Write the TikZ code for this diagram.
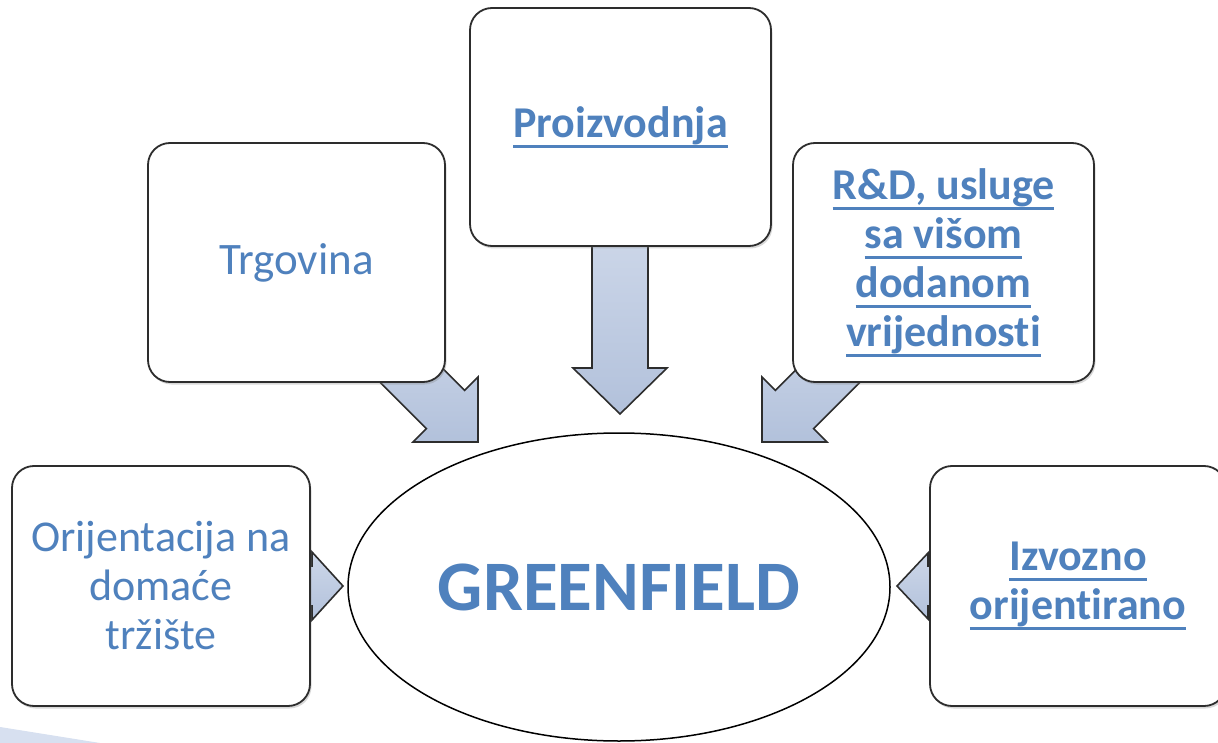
\documentclass[tikz,border=0pt]{standalone}
\usepackage{fontspec}
\setmainfont[RawFeature={-liga;-clig;-calt;-dlig;-rlig}]{Carlito}
\usetikzlibrary{calc,shadows,shapes.geometric}
\definecolor{txtblue}{RGB}{79,129,189}
\definecolor{edgegray}{RGB}{45,45,45}
\definecolor{arrowfill}{RGB}{178,193,219}
\definecolor{arrowlight}{RGB}{205,215,233}
\definecolor{swoosh}{RGB}{215,224,240}
\newsavebox\ulbox
\newcommand\ulx[1]{\sbox\ulbox{#1}\rlap{\color{txtblue}\rule[-0.24em]{\wd\ulbox}{0.07em}}\usebox\ulbox}
% start, tip, shaft half width, head half width, head length
\newcommand\fatarrow[5]{%
  \coordinate (faB) at ($(#2)!#5!(#1)$);
  \draw[fat] ($(#1)!#3!90:(#2)$) -- ($(faB)!#3!90:(#2)$) -- ($(faB)!#4!90:(#2)$) -- (#2)
    -- ($(faB)!#4!-90:(#2)$) -- ($(faB)!#3!-90:(#2)$) -- ($(#1)!#3!-90:(#2)$) -- cycle;}
\tikzset{
  box/.style={draw=edgegray, line width=1.8pt, rounded corners=22pt, fill=white,
    inner sep=0pt, outer sep=0pt, align=center, text=txtblue,
    font=\fontsize{44}{49}\selectfont,
    drop shadow={shadow xshift=1.5pt, shadow yshift=-2.5pt, opacity=0.3}},
  fat/.style={draw=edgegray, line width=1.6pt, line join=miter, top color=arrowlight, bottom color=arrowfill},
  hub/.style={ellipse, draw=black, line width=1.5pt, fill=white, inner sep=0pt,
    minimum width=542pt, minimum height=308pt, text=txtblue,
    font=\fontsize{71}{80}\selectfont\bfseries}
}
\begin{document}
\begin{tikzpicture}[x=1pt,y=-1pt]
\clip (0,0) rectangle (1218,743);
\fill[white] (0,0) rectangle (1218,743);
\fill[swoosh] (0,727) -- (100,743) -- (0,743) -- cycle;

% arrow coordinates
\coordinate (sDown) at (620,230);  \coordinate (tDown) at (620,414);
\coordinate (sTL) at (370,334);    \coordinate (tTL) at (478,442);
\coordinate (sTR) at (870,334);    \coordinate (tTR) at (762,442);
\coordinate (sL) at (250,586);     \coordinate (tL) at (343,586);
\coordinate (sR) at (990,586);     \coordinate (tR) at (897,586);

\fatarrow{sDown}{tDown}{28pt}{47pt}{46pt}
\fatarrow{sTL}{tTL}{27pt}{46pt}{46pt}
\fatarrow{sTR}{tTR}{27pt}{46pt}{46pt}
\fatarrow{sL}{tL}{20pt}{34pt}{31pt}
\fatarrow{sR}{tR}{20pt}{33pt}{31pt}

\node[box, minimum width=297pt, minimum height=239pt] (trg) at (296.5,262.5) {\fontsize{45}{49}\selectfont Trgovina};
\node[box, minimum width=301pt, minimum height=238pt] (pro) at (620.5,127) {\bfseries\ulx{Proizvodnja}};
\node[box, minimum width=301pt, minimum height=239pt] (rnd) at (943.5,262.5)
  {\bfseries\ulx{R\&D, usluge}\\\bfseries\ulx{sa višom}\\\bfseries\ulx{dodanom}\\\bfseries\ulx{vrijednost\kern0pt i}};
\node[box, minimum width=298pt, minimum height=240pt] (ori) at (161,586) {Orijentacija na\\domaće\\tržište};
\node[box, minimum width=296pt, minimum height=240pt] (izv) at (1078,586)
  {\bfseries\ulx{Izvozno}\\\bfseries\ulx{orijent\kern0pt irano}};

\node[hub] (gf) at (619,587) {GREENFIELD};
\end{tikzpicture}
\end{document}
